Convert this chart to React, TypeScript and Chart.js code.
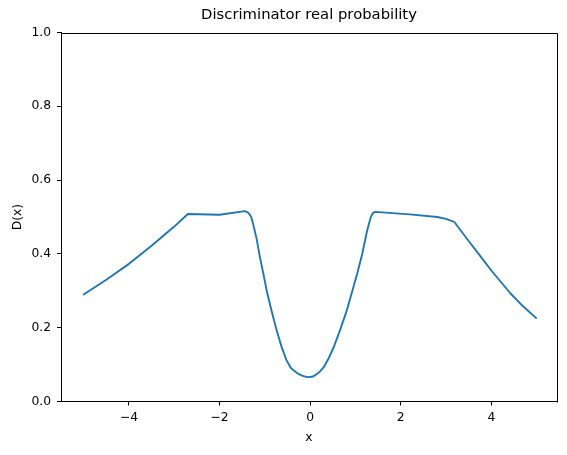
import React, { useEffect, useRef } from "react";
import { Chart, registerables } from "chart.js";

Chart.register(...registerables);

const xValues = [
  -5.0, -4.5, -4.0, -3.5, -3.0, -2.7, -2.0, -1.44, -1.36, -1.3, -1.26, -1.18, -1.11,
  -1.03, -0.96, -0.85, -0.74, -0.63, -0.52, -0.42, -0.29, -0.18, -0.07, 0.04, 0.11,
  0.2, 0.3, 0.4, 0.52, 0.65, 0.81, 0.92, 1.04, 1.15, 1.26, 1.34, 1.39, 1.44, 2.2,
  2.81, 3.0, 3.18, 3.5, 3.77, 4.0, 4.43, 4.7, 4.99,
];
const dValues = [
  0.29, 0.33, 0.373, 0.422, 0.474, 0.508, 0.506, 0.516, 0.511, 0.5, 0.482, 0.44,
  0.392, 0.345, 0.301, 0.245, 0.193, 0.148, 0.111, 0.09, 0.077, 0.07, 0.066, 0.067,
  0.071, 0.079, 0.093, 0.115, 0.147, 0.19, 0.247, 0.295, 0.347, 0.4, 0.464, 0.5,
  0.511, 0.514, 0.507, 0.5, 0.495, 0.487, 0.435, 0.392, 0.355, 0.292, 0.258, 0.226,
];
const xTicks = [-4, -2, 0, 2, 4];
const yTicks = [0, 0.2, 0.4, 0.6, 0.8, 1.0];
const titleText = "Discriminator real probability";
const xLabel = "x";
const yLabel = "D(x)";

const FONT = "'DejaVu Sans', sans-serif";

export default function App() {
  const ref = useRef<HTMLCanvasElement | null>(null);

  useEffect(() => {
    document.body.style.margin = "0";
    const canvas = ref.current;
    if (!canvas) return;

    const framePlugin = {
      id: "framePlugin",
      afterDraw(chart: any) {
        const { ctx, chartArea } = chart;
        const { left, right, top, bottom } = chartArea;
        ctx.save();
        ctx.strokeStyle = "#000";
        ctx.lineWidth = 1;
        ctx.beginPath();
        ctx.moveTo(Math.round(left) + 0.5, Math.round(top) + 0.5);
        ctx.lineTo(Math.round(right) + 0.5, Math.round(top) + 0.5);
        ctx.lineTo(Math.round(right) + 0.5, Math.round(bottom) + 0.5);
        ctx.stroke();
        ctx.fillStyle = "#000";
        ctx.font = `14.8px ${FONT}`;
        ctx.textAlign = "center";
        ctx.textBaseline = "middle";
        ctx.fillText(titleText, (left + right) / 2, 15);
        ctx.font = `12.3px ${FONT}`;
        ctx.fillText(xLabel, (left + right) / 2, 438);
        ctx.translate(18, (top + bottom) / 2);
        ctx.rotate(-Math.PI / 2);
        ctx.fillText(yLabel, 0, 0);
        ctx.restore();
      },
    };

    const chart = new Chart(canvas, {
      type: "line",
      data: {
        datasets: [
          {
            data: xValues.map((x, i) => ({ x, y: dValues[i] })),
            borderColor: "#1f77b4",
            borderWidth: 1.9,
            pointRadius: 0,
            tension: 0,
            fill: false,
            borderJoinStyle: "round",
            borderCapStyle: "round",
          },
        ],
      },
      options: {
        responsive: false,
        animation: false,
        layout: { padding: { left: 0, right: 10, top: 32.5, bottom: 0 } },
        plugins: {
          legend: { display: false },
          title: { display: false },
          tooltip: { enabled: false },
        },
        scales: {
          x: {
            type: "linear",
            min: -5.5,
            max: 5.45,
            afterBuildTicks: (scale: any) => {
              scale.ticks = xTicks.map((v) => ({ value: v }));
            },
            afterFit: (scale: any) => {
              scale.height = 53.5;
            },
            grid: {
              drawOnChartArea: false,
              drawTicks: true,
              tickLength: 4,
              color: "#000",
            },
            border: { display: true, color: "#000", width: 1 },
            ticks: {
              color: "#000",
              font: { family: FONT, size: 12.3 },
              padding: 5,
              maxRotation: 0,
              callback: (v: any) => {
                const n = Number(v);
                return n < 0 ? "\u2212" + Math.abs(n) : String(n);
              },
            },
          },
          y: {
            type: "linear",
            min: 0,
            max: 1,
            afterBuildTicks: (scale: any) => {
              scale.ticks = yTicks.map((v) => ({ value: v }));
            },
            afterFit: (scale: any) => {
              scale.width = 61;
            },
            grid: {
              drawOnChartArea: false,
              drawTicks: true,
              tickLength: 4,
              color: "#000",
            },
            border: { display: true, color: "#000", width: 1 },
            ticks: {
              color: "#000",
              font: { family: FONT, size: 12.3 },
              padding: 6,
              callback: (v: any) => Number(v).toFixed(1),
            },
          },
        },
      },
      plugins: [framePlugin],
    });

    return () => chart.destroy();
  }, []);

  return (
    <div style={{ width: 567, height: 455, background: "#fff" }}>
      <canvas ref={ref} width={567} height={455} />
    </div>
  );
}
